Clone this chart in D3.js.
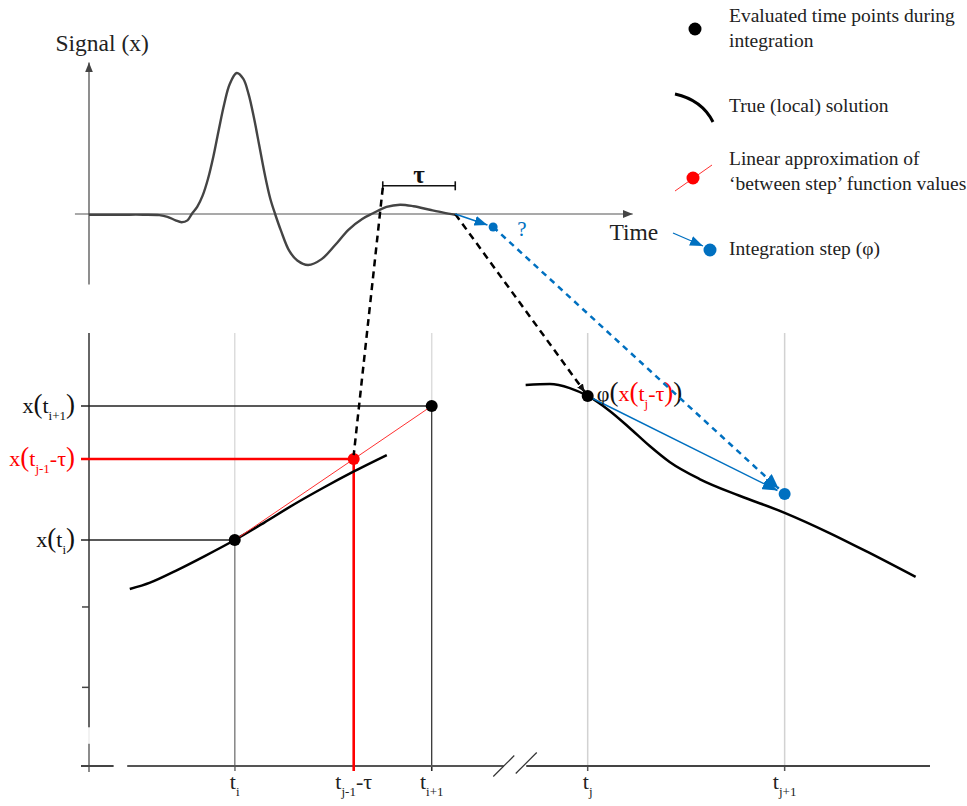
<!DOCTYPE html>
<html>
<head>
<meta charset="utf-8">
<script src="https://cdn.jsdelivr.net/npm/d3@7"></script>
<style>
  body { margin: 0; background: #fff; }
  svg { display: block; }
  text { font-family: "Liberation Serif", "Times New Roman", serif; }
</style>
</head>
<body>
<svg id="chart" width="967" height="806"></svg>
<script>
// ---------- upper panel: delayed input signal ----------
const signalTime  = [0, 0.6, 1.0, 1.3, 1.45, 1.6, 1.71, 1.82, 1.9, 2.0, 2.1, 2.2, 2.3, 2.4, 2.5, 2.6, 2.73,
                     2.85, 2.95, 3.05, 3.15, 3.25, 3.35, 3.44, 3.55, 3.7, 3.85, 4.05, 4.3, 4.55, 4.8, 5.05, 5.25,
                     5.5, 5.75, 6.0, 6.3, 6.55, 6.77];
const signalValue = [-0.005, -0.005, -0.005, -0.008, -0.02, -0.045, -0.058, -0.045, 0.0, 0.05, 0.13, 0.25, 0.41, 0.6, 0.78, 0.92, 1.0,
                     0.96, 0.85, 0.68, 0.48, 0.28, 0.11, 0.0, -0.12, -0.26, -0.33, -0.362, -0.32, -0.22, -0.11, -0.035, 0.005,
                     0.05, 0.066, 0.055, 0.03, 0.01, -0.005];
const tauStart   = 5.43;   // t - τ
const tNow       = 6.77;   // current time
const bracketLevel = 0.2;  // height of the τ bracket
const probeTime  = 7.47;   // unknown next value "?"
const probeValue = -0.092;

// ---------- lower panel: integration steps ----------
const stepTimes  = [1, 1.604, 2, 2.792, 3.792];          // t_i, t_{j-1}-τ, t_{i+1}, t_j, t_{j+1}
const stepSubs   = ["i", "j-1", "i+1", "j", "j+1"];
const stepSuffix = ["", "-τ", "", "", ""];

const leftTime   = [0.467, 0.57, 0.7, 0.85, 1.0, 1.15, 1.3, 1.45, 1.6, 1.772];
const leftValue  = [0.634, 0.682, 0.77, 0.882, 1.0, 1.13, 1.265, 1.39, 1.508, 1.634];
const rightTime  = [2.477, 2.6, 2.701, 2.792, 2.904, 3.005, 3.107, 3.208, 3.36, 3.563, 3.792, 4.02, 4.223, 4.457];
const rightValue = [2.157, 2.164, 2.134, 2.075, 1.963, 1.836, 1.701, 1.582, 1.455, 1.33, 1.203, 1.052, 0.903, 0.724];

const evalTime   = [1, 2, 2.792];     // evaluated points
const evalValue  = [1, 2, 2.075];
const lagTime    = 1.604;              // t_{j-1} - τ
const lagValue   = 1.604;              // linear approximation at the lag
const nextTime   = 3.792;              // end of integration step
const nextValue  = 1.343;
const yTickValues = [2, 1.604, 1, 0.5, -0.1];
const axisBreak  = [2.366, 2.48];

const RED = "#ff0000", BLUE = "#0070c0";

const svg = d3.select("#chart");
const defs = svg.append("defs");
function arrowMarker(id, color, len, wid) {
  defs.append("marker").attr("id", id)
    .attr("viewBox", `0 0 ${len} ${wid}`).attr("refX", len).attr("refY", wid / 2)
    .attr("markerWidth", len).attr("markerHeight", wid)
    .attr("markerUnits", "userSpaceOnUse").attr("orient", "auto")
    .append("path").attr("d", `M0,0L${len},${wid / 2}L0,${wid}Z`).attr("fill", color);
}
arrowMarker("arBlue", BLUE, 13, 10);
arrowMarker("arBlueBig", BLUE, 15, 12);
arrowMarker("arBlack", "#111", 8, 7);
arrowMarker("arAxis", "#444", 10, 8);

// rich text helper (sub-scripts and large parentheses)
function rich(g, x, y, parts, anchor, base) {
  const t = g.append("text").attr("x", x).attr("y", y).attr("text-anchor", anchor || "start")
    .attr("font-size", base || 21);
  let shifted = 0;
  parts.forEach(p => {
    const s = t.append("tspan").text(p.t).attr("fill", p.fill || "#111");
    if (p.sub) { s.attr("font-size", 13).attr("dy", 7 - shifted); shifted = 7; }
    else { if (shifted) { s.attr("dy", -shifted); shifted = 0; } if (p.big) s.attr("font-size", 27); }
  });
  return t;
}

// ---------- upper panel ----------
const xT = d3.scaleLinear().domain([0, 10]).range([89, 630]);
const yT = d3.scaleLinear().domain([-1, 1]).range([355, 73]);
const topG = svg.append("g");

topG.append("line").attr("x1", xT(-0.26)).attr("x2", xT(10.05)).attr("y1", yT(0)).attr("y2", yT(0))
  .attr("stroke", "#555").attr("stroke-width", 1.2).attr("marker-end", "url(#arAxis)");
topG.append("line").attr("x1", xT(0)).attr("x2", xT(0)).attr("y1", yT(-0.5)).attr("y2", yT(1.075))
  .attr("stroke", "#444").attr("stroke-width", 1.2).attr("marker-end", "url(#arAxis)");
topG.append("text").attr("x", xT(-0.62)).attr("y", 51).attr("font-size", 23.5).attr("fill", "#222").text("Signal (x)");
topG.append("text").attr("x", xT(9.62)).attr("y", 240).attr("font-size", 23.5).attr("fill", "#222").text("Time");

topG.append("path")
  .datum(d3.zip(signalTime, signalValue))
  .attr("d", d3.line().x(d => xT(d[0])).y(d => yT(d[1])).curve(d3.curveCatmullRom.alpha(0.5)))
  .attr("fill", "none").attr("stroke", "#444").attr("stroke-width", 2.4);

// τ bracket
const by = yT(bracketLevel);
topG.append("line").attr("x1", xT(tauStart)).attr("x2", xT(tNow)).attr("y1", by).attr("y2", by)
  .attr("stroke", "#111").attr("stroke-width", 1.6);
[tauStart, tNow].forEach(t => topG.append("line").attr("x1", xT(t)).attr("x2", xT(t))
  .attr("y1", by - 4.5).attr("y2", by + 4.5).attr("stroke", "#111").attr("stroke-width", 1.6));
topG.append("text").attr("x", xT((tauStart + tNow) / 2)).attr("y", by - 3).attr("text-anchor", "middle")
  .attr("font-size", 25).attr("font-weight", "bold").attr("fill", "#111").text("τ");

// ---------- lower panel ----------
const xB = d3.scaleLinear().domain([0.26, 4.53]).range([89, 930]);
const yB = d3.scaleLinear().domain([-0.687, 2.545]).range([766, 333]);
const bot = svg.append("g");
const y0 = yB(-0.687), yTopB = yB(2.545);

// vertical guides for each time point
const gridColor = ["#dcdcdc", null, "#dcdcdc", "#d2d2d2", "#d2d2d2"];
stepTimes.forEach((t, i) => {
  if (i === 1) return;
  bot.append("line").attr("x1", xB(t)).attr("x2", xB(t)).attr("y1", yTopB).attr("y2", y0)
    .attr("stroke", gridColor[i]).attr("stroke-width", 1.5);
  bot.append("line").attr("x1", xB(t)).attr("x2", xB(t)).attr("y1", y0).attr("y2", y0 + 5)
    .attr("stroke", "#555").attr("stroke-width", 1.5);
});
bot.append("line").attr("x1", xB(evalTime[0])).attr("x2", xB(evalTime[0]))
  .attr("y1", yB(evalValue[0])).attr("y2", y0 + 5).attr("stroke", "#8a8a8a").attr("stroke-width", 1.5);
bot.append("line").attr("x1", xB(evalTime[1])).attr("x2", xB(evalTime[1]))
  .attr("y1", yB(evalValue[1])).attr("y2", y0 + 5).attr("stroke", "#222").attr("stroke-width", 1.1);

// y axis (with a small gap near the bottom)
bot.append("line").attr("x1", xB(0.26)).attr("x2", xB(0.26)).attr("y1", yTopB).attr("y2", yB(-0.4))
  .attr("stroke", "#333").attr("stroke-width", 1.5);
bot.append("line").attr("x1", xB(0.26)).attr("x2", xB(0.26)).attr("y1", yB(-0.4)).attr("y2", yB(-0.52))
  .attr("stroke", "#eee").attr("stroke-width", 1.5);
bot.append("line").attr("x1", xB(0.26)).attr("x2", xB(0.26)).attr("y1", yB(-0.52)).attr("y2", y0 + 6)
  .attr("stroke", "#666").attr("stroke-width", 1.5);
yTickValues.slice(3).forEach(v => bot.append("line").attr("x1", xB(0.26) - 7).attr("x2", xB(0.26))
  .attr("y1", yB(v)).attr("y2", yB(v)).attr("stroke", "#444").attr("stroke-width", 1.5));

// x axis with break
bot.append("line").attr("x1", xB(0.26) - 8).attr("x2", xB(0.385)).attr("y1", y0).attr("y2", y0)
  .attr("stroke", "#444").attr("stroke-width", 1.8);
bot.append("line").attr("x1", xB(0.454)).attr("x2", xB(axisBreak[0])).attr("y1", y0).attr("y2", y0)
  .attr("stroke", "#555").attr("stroke-width", 1.8);
bot.append("line").attr("x1", xB(axisBreak[1])).attr("x2", xB(4.53)).attr("y1", y0).attr("y2", y0)
  .attr("stroke", "#444").attr("stroke-width", 2.2);
axisBreak.forEach((t, i) => {
  const cx = xB(t), cy = y0 - i * 3;
  bot.append("line").attr("x1", cx - 10.5).attr("x2", cx + 10.5).attr("y1", cy + 10.5).attr("y2", cy - 10.5)
    .attr("stroke", "#333").attr("stroke-width", 1.2);
});

// horizontal guides to evaluated points
[[evalTime[1], evalValue[1]], [evalTime[0], evalValue[0]]].forEach(d => bot.append("line")
  .attr("x1", xB(0.26) - 8).attr("x2", xB(d[0])).attr("y1", yB(d[1])).attr("y2", yB(d[1]))
  .attr("stroke", "#222").attr("stroke-width", 1.4));

// lag guides (red)
bot.append("line").attr("x1", xB(0.26) - 8).attr("x2", xB(lagTime)).attr("y1", yB(lagValue)).attr("y2", yB(lagValue))
  .attr("stroke", RED).attr("stroke-width", 2.6);
bot.append("line").attr("x1", xB(lagTime)).attr("x2", xB(lagTime)).attr("y1", yB(lagValue)).attr("y2", y0 + 5)
  .attr("stroke", RED).attr("stroke-width", 2.6);

// true local solutions
const solLine = d3.line().x(d => xB(d[0])).y(d => yB(d[1])).curve(d3.curveMonotoneX);
bot.append("path").datum(d3.zip(leftTime, leftValue)).attr("d", solLine)
  .attr("fill", "none").attr("stroke", "#000").attr("stroke-width", 2.5);
bot.append("path").datum(d3.zip(rightTime, rightValue)).attr("d", solLine)
  .attr("fill", "none").attr("stroke", "#000").attr("stroke-width", 2.5);

// linear approximation between steps
bot.append("line").attr("x1", xB(evalTime[0])).attr("x2", xB(evalTime[1]))
  .attr("y1", yB(evalValue[0])).attr("y2", yB(evalValue[1])).attr("stroke", "#ff3030").attr("stroke-width", 1);

// integration step (φ)
const phiX = xB(evalTime[2]), phiY = yB(evalValue[2]);
const nX = xB(nextTime), nY = yB(nextValue);
{
  const ang = Math.atan2(nY - phiY, nX - phiX);
  bot.append("line").attr("x1", phiX).attr("y1", phiY)
    .attr("x2", nX - 8 * Math.cos(ang)).attr("y2", nY - 8 * Math.sin(ang))
    .attr("stroke", BLUE).attr("stroke-width", 1.5).attr("marker-end", "url(#arBlueBig)");
}

// ---------- connections between panels ----------
const cross = svg.append("g");
cross.append("line").attr("x1", xT(tauStart)).attr("y1", by + 2).attr("x2", xB(lagTime)).attr("y2", yB(lagValue) - 4)
  .attr("stroke", "#000").attr("stroke-width", 2.5).attr("stroke-dasharray", "7,5");
{
  const x1 = xT(tNow), y1 = yT(0);
  const ang = Math.atan2(phiY - y1, phiX - x1);
  cross.append("line").attr("x1", x1).attr("y1", y1)
    .attr("x2", phiX - 5 * Math.cos(ang)).attr("y2", phiY - 5 * Math.sin(ang))
    .attr("stroke", "#000").attr("stroke-width", 2.5).attr("stroke-dasharray", "7,5")
    .attr("marker-end", "url(#arBlack)");
}
const pX = xT(probeTime), pY = yT(probeValue);
{
  const x1 = xT(tNow), y1 = yT(0);
  const ang = Math.atan2(pY - y1, pX - x1);
  cross.append("line").attr("x1", x1).attr("y1", y1)
    .attr("x2", pX - 6 * Math.cos(ang)).attr("y2", pY - 6 * Math.sin(ang))
    .attr("stroke", BLUE).attr("stroke-width", 1.5).attr("marker-end", "url(#arBlue)");
  const ang2 = Math.atan2(nY - pY, nX - pX);
  cross.append("line").attr("x1", pX).attr("y1", pY)
    .attr("x2", nX - 8 * Math.cos(ang2)).attr("y2", nY - 8 * Math.sin(ang2))
    .attr("stroke", BLUE).attr("stroke-width", 2.5).attr("stroke-dasharray", "6,5")
    .attr("marker-end", "url(#arBlueBig)");
}
cross.append("circle").attr("cx", pX).attr("cy", pY).attr("r", 4.5).attr("fill", BLUE);
cross.append("text").attr("x", pX + 24).attr("y", pY + 9).attr("font-size", 21).attr("fill", BLUE).text("?");

// points
evalTime.forEach((t, i) => bot.append("circle").attr("cx", xB(t)).attr("cy", yB(evalValue[i]))
  .attr("r", 6).attr("fill", "#000"));
bot.append("circle").attr("cx", xB(lagTime)).attr("cy", yB(lagValue)).attr("r", 6).attr("fill", RED);
bot.append("circle").attr("cx", nX).attr("cy", nY).attr("r", 6).attr("fill", BLUE);

// tick labels on the time axis
stepTimes.forEach((t, i) => rich(bot, xB(t), 789, [
  { t: "t", fill: "#222" }, { t: stepSubs[i], sub: true, fill: "#222" },
  ...(stepSuffix[i] ? [{ t: stepSuffix[i], fill: "#222" }] : [])
], "middle", 22));

// value labels on the y axis
rich(bot, 75, yB(evalValue[1]) + 7, [{ t: "x" }, { t: "(", big: true }, { t: "t" }, { t: "i+1", sub: true }, { t: ")", big: true }], "end", 22);
rich(bot, 75, yB(lagValue) + 7, [{ t: "x", fill: RED }, { t: "(", big: true, fill: RED }, { t: "t", fill: RED },
  { t: "j-1", sub: true, fill: RED }, { t: "-τ", fill: RED }, { t: ")", big: true, fill: RED }], "end", 22);
rich(bot, 75, yB(evalValue[0]) + 7, [{ t: "x" }, { t: "(", big: true }, { t: "t" }, { t: "i", sub: true }, { t: ")", big: true }], "end", 22);

// φ label next to the evaluated point
rich(bot, phiX + 9, phiY + 5, [{ t: "φ" }, { t: "(", big: true }, { t: "x", fill: RED }, { t: "(", big: true, fill: RED },
  { t: "t", fill: RED }, { t: "j", sub: true, fill: RED }, { t: "-τ", fill: RED }, { t: ")", big: true, fill: RED },
  { t: ")", big: true }], "start", 22);

// ---------- legend ----------
const lg = svg.append("g");
const LX = 729, LS = 19.5;
lg.append("circle").attr("cx", 695).attr("cy", 29).attr("r", 6.5).attr("fill", "#000");
lg.append("text").attr("x", LX).attr("y", 22).attr("font-size", LS).attr("fill", "#222").text("Evaluated time points during");
lg.append("text").attr("x", LX).attr("y", 47).attr("font-size", LS).attr("fill", "#222").text("integration");

lg.append("path").attr("d", "M675,94 Q702,100 713,122").attr("fill", "none").attr("stroke", "#000").attr("stroke-width", 3);
lg.append("text").attr("x", LX).attr("y", 112).attr("font-size", LS).attr("fill", "#222").text("True (local) solution");

lg.append("line").attr("x1", 675).attr("y1", 191).attr("x2", 712).attr("y2", 165).attr("stroke", "#ff3030").attr("stroke-width", 1);
lg.append("circle").attr("cx", 693).attr("cy", 178).attr("r", 6.5).attr("fill", RED);
lg.append("text").attr("x", LX).attr("y", 165).attr("font-size", LS).attr("fill", "#222").text("Linear approximation of");
lg.append("text").attr("x", LX).attr("y", 190).attr("font-size", LS).attr("fill", "#222").text("‘between step’ function values");

lg.append("line").attr("x1", 673).attr("y1", 233).attr("x2", 703).attr("y2", 246)
  .attr("stroke", BLUE).attr("stroke-width", 1.3).attr("marker-end", "url(#arBlue)");
lg.append("circle").attr("cx", 710).attr("cy", 250).attr("r", 6.5).attr("fill", BLUE);
lg.append("text").attr("x", LX).attr("y", 255).attr("font-size", LS).attr("fill", "#222").text("Integration step (φ)");
</script>
</body>
</html>
